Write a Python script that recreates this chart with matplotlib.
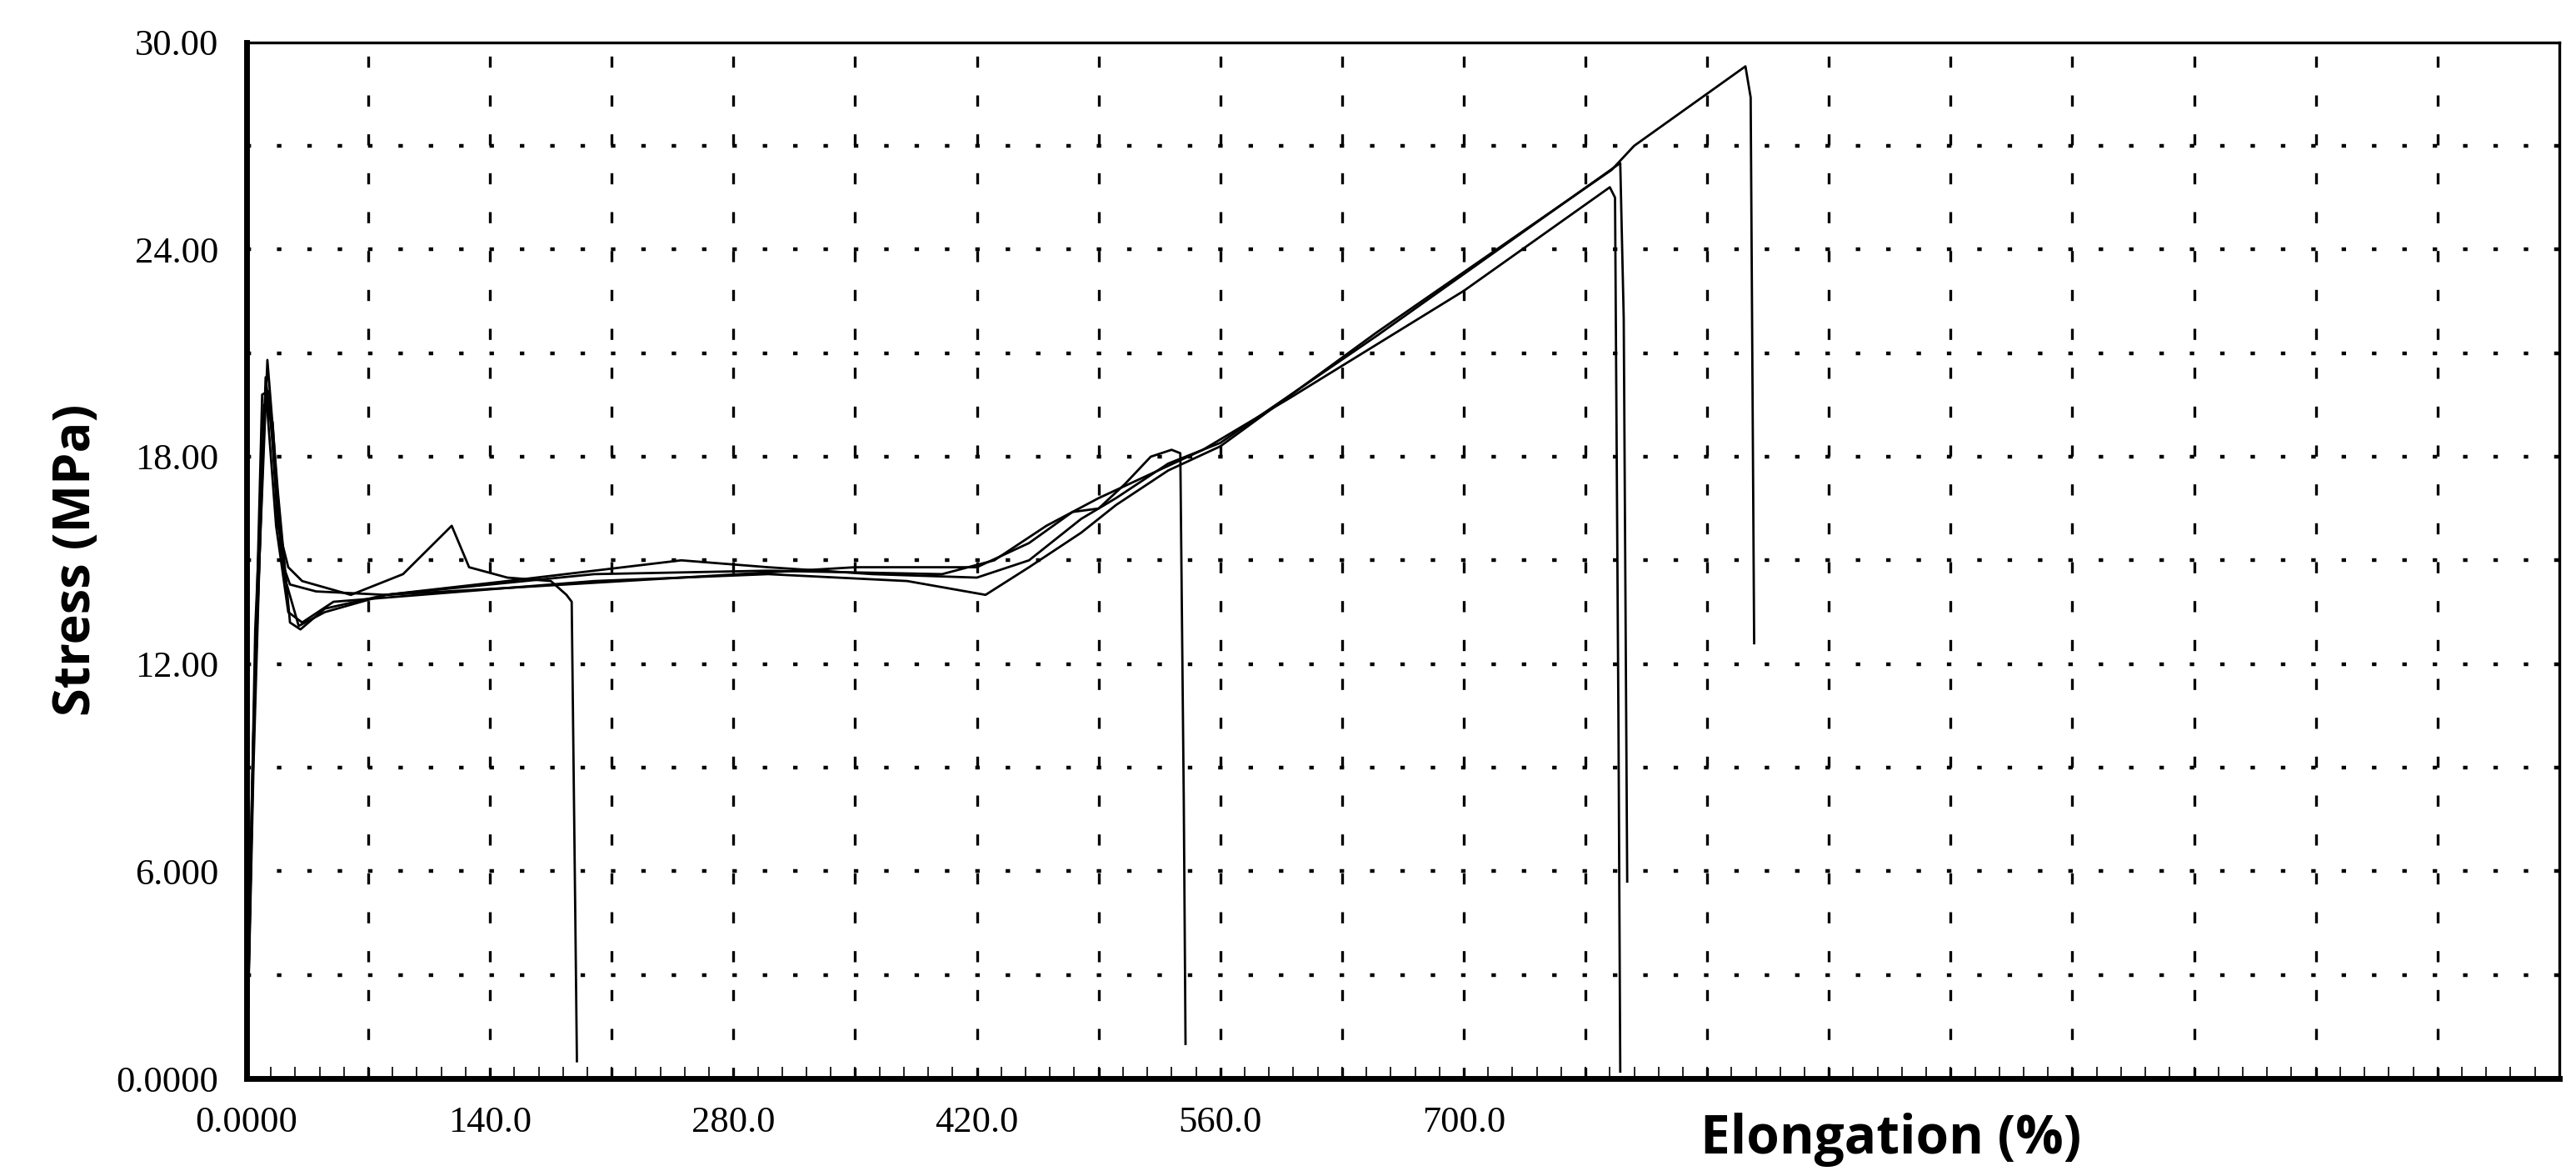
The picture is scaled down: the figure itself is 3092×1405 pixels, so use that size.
import numpy as np
import matplotlib.pyplot as plt
from matplotlib.ticker import MultipleLocator

# specimen curves: elongation (%) / stress (MPa)
elong_a = [0, 3, 9, 13, 18, 24, 32, 60, 90, 110, 118, 128, 150, 175, 184, 187, 189, 190]
stress_a = [0, 8, 19.8, 19.9, 16, 14.8, 14.4, 14.0, 14.6, 15.6, 16.0, 14.8, 14.5, 14.4, 14.0, 13.8, 5, 0.5]

elong_b = [0, 4, 11, 16, 22, 30, 45, 80, 150, 250, 350, 420, 450, 475, 490, 505, 520, 532, 537, 539, 540]
stress_b = [0, 10, 20.3, 18, 14.5, 13.1, 13.5, 14.0, 14.2, 14.5, 14.8, 14.8, 15.5, 16.4, 16.5, 17.2, 18.0, 18.2, 18.1, 8, 1.0]

elong_c = [0, 5, 12, 18, 25, 31, 45, 80, 200, 300, 400, 430, 460, 490, 520, 550, 600, 700, 784, 787, 789, 790]
stress_c = [0, 12, 20.8, 17, 13.2, 13.0, 13.6, 14.0, 14.6, 14.7, 14.6, 15.0, 16.0, 16.8, 17.5, 18.2, 19.7, 22.8, 25.8, 25.5, 10, 0.2]

elong_d = [0, 4, 10, 15, 20, 25, 40, 80, 150, 250, 300, 360, 420, 450, 480, 500, 530, 560, 650, 790, 792, 794]
stress_d = [0, 9, 19.5, 19, 15, 14.3, 14.1, 14.0, 14.4, 15.0, 14.8, 14.6, 14.5, 15.0, 16.2, 16.8, 17.8, 18.4, 21.5, 26.5, 22, 5.7]

elong_e = [0, 5, 11, 17, 24, 32, 50, 100, 200, 300, 380, 425, 450, 480, 500, 530, 560, 650, 785, 798, 862, 865, 867]
stress_e = [0, 13, 20.0, 16, 13.5, 13.2, 13.8, 14.0, 14.4, 14.6, 14.4, 14.0, 14.8, 15.8, 16.6, 17.6, 18.3, 21.6, 26.3, 27.0, 29.3, 28.4, 12.6]

x_ticks = [0, 140, 280, 420, 560, 700]
x_labels = ['0.0000', '140.0', '280.0', '420.0', '560.0', '700.0']
y_ticks = [0, 6, 12, 18, 24, 30]
y_labels = ['0.0000', '6.000', '12.00', '18.00', '24.00', '30.00']

fig = plt.figure(figsize=(15.46, 7.025), dpi=200)
ax = fig.add_axes([0.0957, 0.079, 0.8978, 0.885])

for xs, ys in [(elong_a, stress_a), (elong_b, stress_b), (elong_c, stress_c),
               (elong_d, stress_d), (elong_e, stress_e)]:
    ax.plot(xs, ys, color='black', linewidth=1.0)

ax.set_xlim(0, 1330)
ax.set_ylim(0, 30)

# grid every 70 % and every 3 MPa
for gx in np.arange(70, 1330, 70):
    ax.axvline(gx, color='black', linewidth=1.2, linestyle=(0, (4, 10)), zorder=0)
for gy in np.arange(3, 30, 3):
    ax.axhline(gy, color='black', linewidth=1.6, linestyle=(0, (1.2, 7)), zorder=0)

ax.set_xticks(x_ticks)
ax.set_xticklabels(x_labels, family='Liberation Serif', fontsize=16)
ax.set_yticks(y_ticks)
ax.set_yticklabels(y_labels, family='Liberation Serif', fontsize=16)
ax.xaxis.set_minor_locator(MultipleLocator(14))
ax.tick_params(axis='both', which='major', length=0, pad=12)
ax.tick_params(axis='x', which='minor', direction='in', length=5, top=False)

for side in ['left', 'bottom']:
    ax.spines[side].set_linewidth(2.5)
for side in ['top', 'right']:
    ax.spines[side].set_linewidth(1.2)

ax.set_ylabel('Stress (MPa)', fontsize=22, fontweight='bold', family='Open Sans', labelpad=6)
fig.text(0.66, 0.027, 'Elongation (%)', fontsize=23, fontweight='bold', family='Open Sans',
         ha='left', va='center')

plt.savefig('out.png')
